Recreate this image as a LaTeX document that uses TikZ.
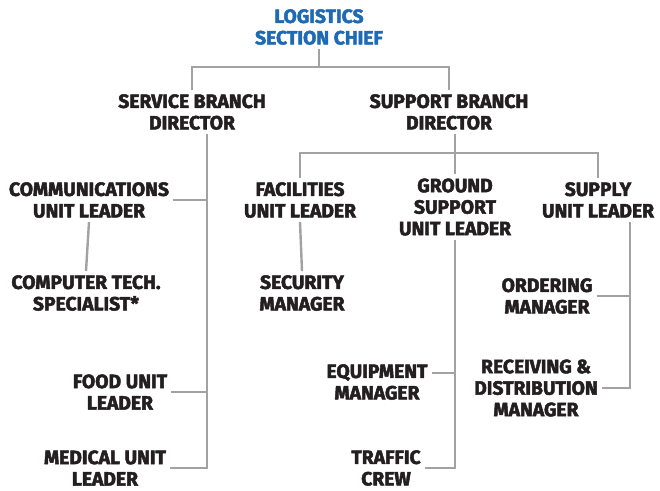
\documentclass[tikz,border=0pt]{standalone}
\usepackage{fontspec}
\setmainfont{Fira Sans}[BoldFeatures={FakeBold=2.5}]
\usepackage{xcolor}
\usepackage{tikz}
\usetikzlibrary{calc, positioning}
\definecolor{chefbleu}{HTML}{1F6AB4}
\definecolor{texte}{HTML}{231F20}
\definecolor{trait}{HTML}{A0A2A5}

\begin{document}
\begin{tikzpicture}[
		x=1pt, y=-1pt,
		unit/.style={align=center, inner sep=4pt, text=texte, font=\fontsize{19.3}{21.5}\selectfont\bfseries},
		chef/.style={unit, text=chefbleu},
		link/.style={draw=trait, line width=2.4pt}
		]
		\useasboundingbox (0,0) rectangle (660,490);
		
		% Les postes
		\node[chef] (chief) at (319, 27) {LOGISTICS\\SECTION CHIEF};
		\node[unit] (svc) at (192, 112) {SERVICE BRANCH\\DIRECTOR};
		\node[unit] (sup) at (449, 112) {SUPPORT BRANCH\\DIRECTOR};
		
		\node[unit] (comm) at (89, 200) {COMMUNICATIONS\\UNIT LEADER};
		\node[unit] (comp) at (86, 293) {COMPUTER TECH.\\SPECIALIST*};
		\node[unit] (food) at (120, 392) {FOOD UNIT\\LEADER};
		\node[unit] (med) at (105, 468) {MEDICAL UNIT\\LEADER};
		
		\node[unit] (fac) at (300, 200) {FACILITIES\\UNIT LEADER};
		\node[unit] (sec) at (302, 293) {SECURITY\\MANAGER};
		\node[unit] (gnd) at (455, 207) {GROUND\\SUPPORT\\UNIT LEADER};
		\node[unit] (equip) at (377, 382) {EQUIPMENT\\MANAGER};
		\node[unit] (traf) at (386, 468) {TRAFFIC\\CREW};
		\node[unit] (supply) at (598, 200) {SUPPLY\\UNIT LEADER};
		\node[unit] (order) at (547, 296) {ORDERING\\MANAGER};
		\node[unit] (recv) at (536, 388) {RECEIVING \&\\DISTRIBUTION\\MANAGER};
		
		% Les points de jonction
		\coordinate (topbus) at (320, 67);
		\coordinate (supbus) at (455, 153);
		\coordinate (svcdrop) at ([xshift=15pt]svc.south);
		\coordinate (supdrop) at ([xshift=32pt]supply.south);
		
		% Les liaisons
		\draw[link] (chief.south) -- (chief.south |- topbus);
		\draw[link] (svc.north) |- (topbus) -| (sup.north);
		
		\draw[link] (svcdrop) |- (med.east);
		\draw[link] (comm.east) -- (comm.east -| svcdrop);
		\draw[link] (food.east) -- (food.east -| svcdrop);
		\draw[link] (comm.south) -- (comp.north);
		
		\draw[link] (sup.south -| gnd.north) -- (gnd.north);
		\draw[link] (fac.north) |- (supbus) -| (supply.north);
		\draw[link] (fac.south) -- (sec.north);
		\draw[link] (gnd.south) |- (traf.east);
		\draw[link] ([yshift=9pt]equip.east) -- ([yshift=9pt]equip.east -| gnd.south);
		\draw[link] (supdrop) |- (recv.east);
		\draw[link] (order.east) -- (order.east -| supdrop);
	\end{tikzpicture}
\end{document}
